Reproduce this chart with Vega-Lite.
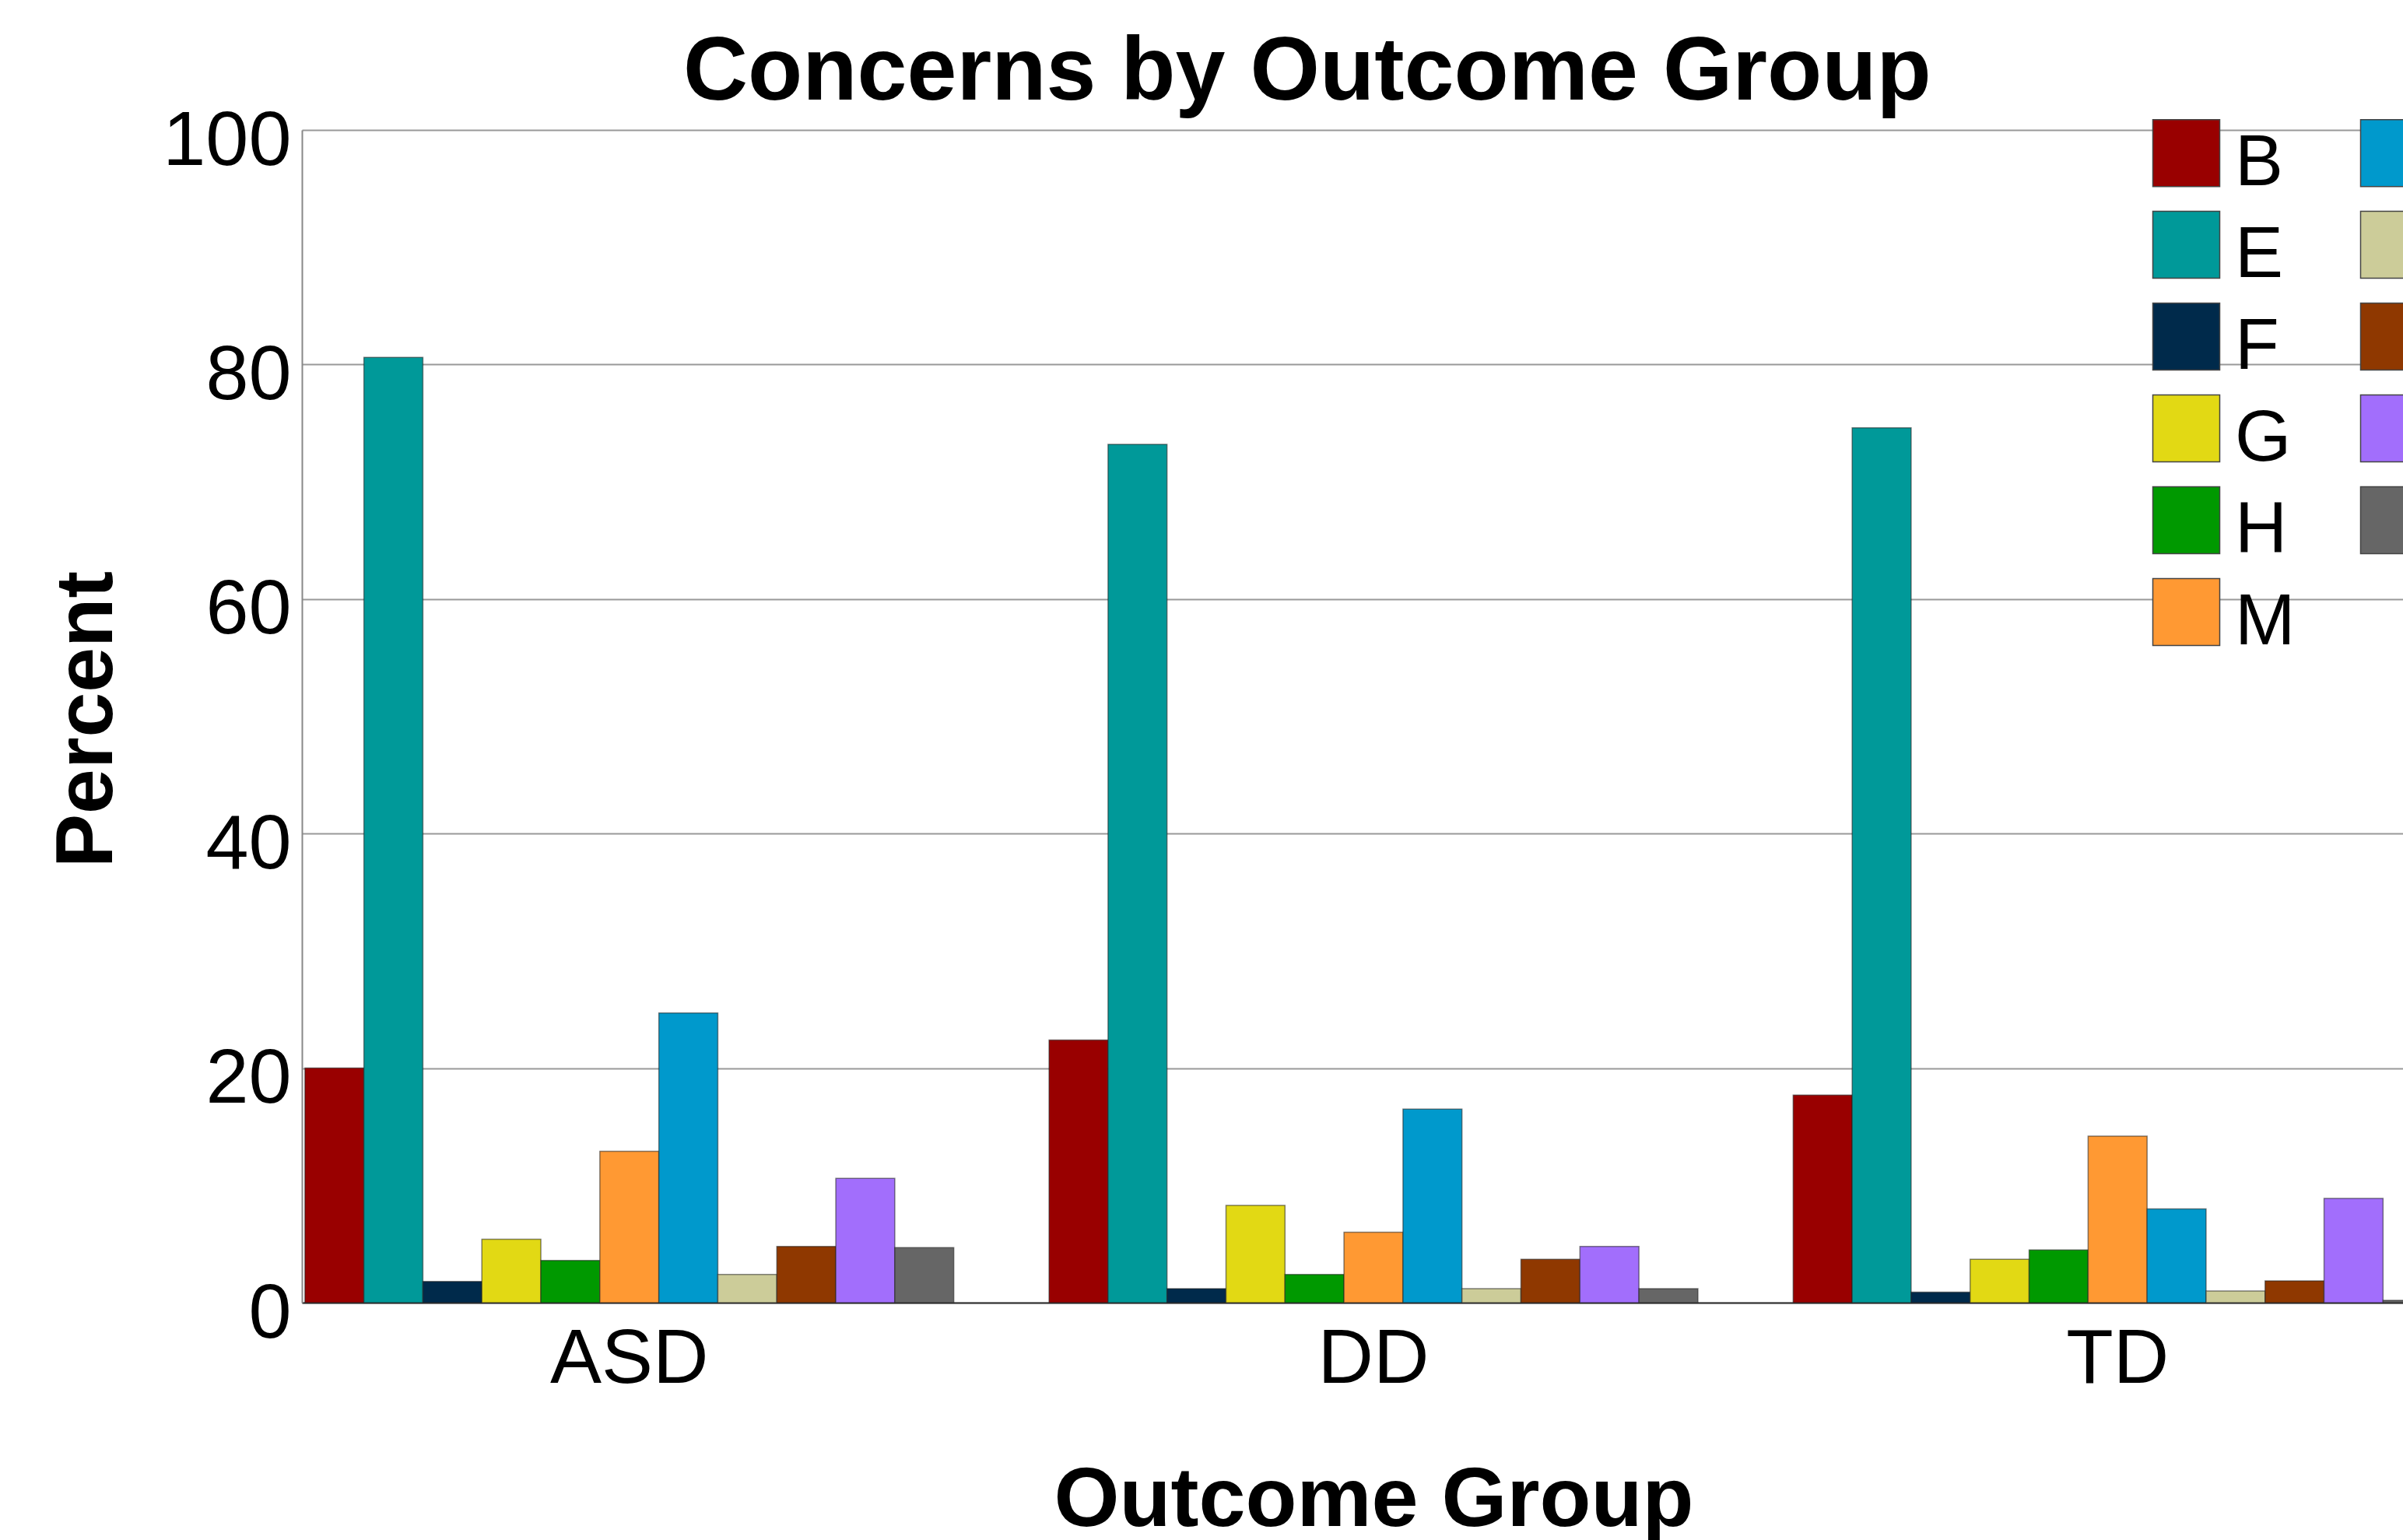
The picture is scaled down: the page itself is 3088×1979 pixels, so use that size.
{
  "$schema": "https://vega.github.io/schema/vega-lite/v6.json",
  "autosize": {"type": "none"},
  "width": 2700,
  "height": 1507,
  "padding": {"left": 388, "top": 167, "right": 0, "bottom": 305},
  "background": "white",
  "config": {"view": {"stroke": null}, "font": "Liberation Sans"},
  "title": {"text": "Concerns by Outcome Group", "fontSize": 115, "fontWeight": "bold", "font": "Liberation Sans", "anchor": "start", "frame": "group", "dx": 490, "dy": 147, "baseline": "alphabetic", "offset": 36, "color": "black"},
  "data": {"values": [
    {"group": "ASD", "concern": "B", "percent": 20.0},
    {"group": "ASD", "concern": "E", "percent": 80.6},
    {"group": "ASD", "concern": "F", "percent": 1.8},
    {"group": "ASD", "concern": "G", "percent": 5.4},
    {"group": "ASD", "concern": "H", "percent": 3.6},
    {"group": "ASD", "concern": "M", "percent": 12.9},
    {"group": "ASD", "concern": "N", "percent": 24.7},
    {"group": "ASD", "concern": "P", "percent": 2.4},
    {"group": "ASD", "concern": "R", "percent": 4.8},
    {"group": "ASD", "concern": "S", "percent": 10.6},
    {"group": "ASD", "concern": "T", "percent": 4.7},
    {"group": "DD", "concern": "B", "percent": 22.4},
    {"group": "DD", "concern": "E", "percent": 73.2},
    {"group": "DD", "concern": "F", "percent": 1.2},
    {"group": "DD", "concern": "G", "percent": 8.3},
    {"group": "DD", "concern": "H", "percent": 2.4},
    {"group": "DD", "concern": "M", "percent": 6.0},
    {"group": "DD", "concern": "N", "percent": 16.5},
    {"group": "DD", "concern": "P", "percent": 1.2},
    {"group": "DD", "concern": "R", "percent": 3.7},
    {"group": "DD", "concern": "S", "percent": 4.8},
    {"group": "DD", "concern": "T", "percent": 1.2},
    {"group": "TD", "concern": "B", "percent": 17.7},
    {"group": "TD", "concern": "E", "percent": 74.6},
    {"group": "TD", "concern": "F", "percent": 0.9},
    {"group": "TD", "concern": "G", "percent": 3.7},
    {"group": "TD", "concern": "H", "percent": 4.5},
    {"group": "TD", "concern": "M", "percent": 14.2},
    {"group": "TD", "concern": "N", "percent": 8.0},
    {"group": "TD", "concern": "P", "percent": 1.0},
    {"group": "TD", "concern": "R", "percent": 1.85},
    {"group": "TD", "concern": "S", "percent": 8.9},
    {"group": "TD", "concern": "T", "percent": 0.2}
  ]},
  "mark": {"type": "bar", "stroke": "#222222", "strokeWidth": 1.5, "strokeOpacity": 0.55},
  "encoding": {
    "x": {
      "field": "group", "type": "nominal", "sort": ["ASD", "DD", "TD"],
      "scale": {"range": [0, 2754], "paddingInner": 0.128, "paddingOuter": 0.004},
      "axis": {
        "title": "Outcome Group", "titleFontSize": 108, "titleFontWeight": "bold", "titleColor": "black",
        "titleX": 1377, "titleY": 286, "titleBaseline": "alphabetic", "titleAlign": "center",
        "labelFontSize": 99, "labelAngle": 0, "labelColor": "black", "labelPadding": 24, "labelLimit": 1000,
        "ticks": false, "domainColor": "#333333", "domainWidth": 2, "grid": false
      }
    },
    "xOffset": {
      "field": "concern", "type": "nominal",
      "sort": ["B", "E", "F", "G", "H", "M", "N", "P", "R", "S", "T"],
      "scale": {"paddingInner": 0, "paddingOuter": 0}
    },
    "y": {
      "field": "percent", "type": "quantitative",
      "scale": {"domain": [0, 100], "nice": false},
      "axis": {
        "title": "Percent", "titleFontSize": 104, "titleFontWeight": "bold", "titleColor": "black",
        "titleX": -245, "titleY": 757, "titleAngle": 270, "titleBaseline": "alphabetic", "titleAlign": "center",
        "values": [0, 20, 40, 60, 80, 100],
        "labelFontSize": 99, "labelColor": "black", "labelOffset": 14, "labelPadding": 14,
        "ticks": false, "domainColor": "#888888", "domainWidth": 2,
        "gridColor": "#999999", "gridWidth": 2
      }
    },
    "color": {
      "field": "concern", "type": "nominal",
      "scale": {
        "domain": ["B", "E", "F", "G", "H", "M", "N", "P", "R", "S", "T"],
        "range": ["#990000", "#009999", "#002a4b", "#e2d914", "#009900", "#ff9933", "#0099cc", "#cccc99", "#8f3800", "#a26efc", "#666666"]
      },
      "legend": {
        "orient": "none", "legendX": 2375, "legendY": -17, "columns": 2, "title": null,
        "symbolType": "square", "symbolSize": 7396, "symbolStrokeColor": "#444444", "symbolStrokeWidth": 1.5,
        "symbolOpacity": 1, "labelFontSize": 93, "labelColor": "black", "labelOffset": 16,
        "rowPadding": 11, "columnPadding": 80, "labelLimit": 500, "padding": 0,
        "encode": {"labels": {"update": {"dy": {"value": 13}}}}
      }
    }
  }
}
